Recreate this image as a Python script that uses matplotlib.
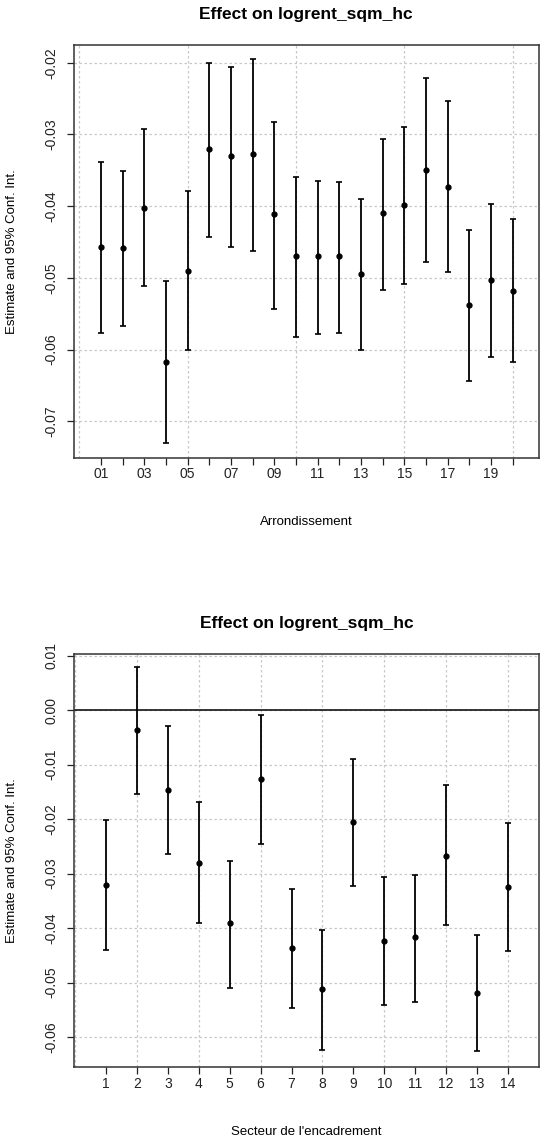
import numpy as np
import matplotlib
matplotlib.use("Agg")
import matplotlib.pyplot as plt

plt.rcParams["font.family"] = ["Liberation Sans", "DejaVu Sans"]

# Effects by arrondissement (estimate, lower and upper 95% bound)
arr_labels = ["01", "02", "03", "04", "05", "06", "07", "08", "09", "10",
              "11", "12", "13", "14", "15", "16", "17", "18", "19", "20"]
arr_est = [-0.0457, -0.0458, -0.0402, -0.0618, -0.0490, -0.0320, -0.0330, -0.0327, -0.0411, -0.0470,
           -0.0470, -0.0470, -0.0495, -0.0410, -0.0398, -0.0349, -0.0373, -0.0538, -0.0503, -0.0518]
arr_lo = [-0.0577, -0.0567, -0.0512, -0.0730, -0.0600, -0.0443, -0.0457, -0.0462, -0.0544, -0.0582,
          -0.0578, -0.0577, -0.0600, -0.0517, -0.0509, -0.0478, -0.0492, -0.0644, -0.0610, -0.0618]
arr_hi = [-0.0338, -0.0351, -0.0292, -0.0505, -0.0379, -0.0200, -0.0206, -0.0195, -0.0283, -0.0359,
          -0.0365, -0.0366, -0.0390, -0.0306, -0.0290, -0.0222, -0.0254, -0.0434, -0.0397, -0.0418]

# Effects by secteur de l'encadrement
sect_labels = ["1", "2", "3", "4", "5", "6", "7", "8", "9", "10", "11", "12", "13", "14"]
sect_est = [-0.0321, -0.0036, -0.0146, -0.0280, -0.0391, -0.0126, -0.0437,
            -0.0512, -0.0205, -0.0424, -0.0417, -0.0267, -0.0519, -0.0324]
sect_lo = [-0.0440, -0.0154, -0.0265, -0.0390, -0.0510, -0.0245, -0.0546,
           -0.0624, -0.0322, -0.0541, -0.0535, -0.0394, -0.0626, -0.0443]
sect_hi = [-0.0201, 0.0079, -0.0029, -0.0169, -0.0277, -0.0009, -0.0329,
           -0.0403, -0.0090, -0.0307, -0.0302, -0.0138, -0.0412, -0.0208]

W, H = 541, 1138
fig = plt.figure(figsize=(W / 100, H / 100), dpi=100)


def effect_panel(rect, labels, est, lo, hi, xlim, ylim, yticks, xgrid, xlabel, every=1, zero=False):
    ax = fig.add_axes(rect)
    x = np.arange(1, len(labels) + 1)
    est = np.array(est)
    err = [est - np.array(lo), np.array(hi) - est]

    for g in xgrid:
        ax.axvline(g, color="#c8c8c8", lw=0.9, ls=(0, (2, 2)), zorder=0)
    for t in yticks:
        ax.axhline(t, color="#c8c8c8", lw=0.9, ls=(0, (2, 2)), zorder=0)
    if zero:
        ax.axhline(0, color="black", lw=1.1, zorder=1)

    ax.errorbar(x, est, yerr=err, fmt="o", color="black", ms=3.5,
                elinewidth=1.3, capsize=2.5, capthick=1.2, zorder=3)

    ax.set_xlim(*xlim)
    ax.set_ylim(*ylim)
    ax.set_xticks(x)
    ax.set_xticklabels([l if i % every == 0 else "" for i, l in enumerate(labels)])
    ax.set_yticks(yticks)
    ax.set_yticklabels(["%.2f" % t for t in yticks], rotation=90, va="center")
    ax.tick_params(axis="both", labelsize=10, length=5, width=0.9, colors="#222222")
    ax.tick_params(axis="x", pad=2)
    ax.tick_params(axis="y", pad=6)
    for s in ax.spines.values():
        s.set_color("#333333")
        s.set_linewidth(1.1)
    ax.set_title("Effect on logrent_sqm_hc", fontweight="bold", fontsize=12.5, pad=19)
    ax.set_xlabel(xlabel, fontsize=9.5, labelpad=25)
    ax.set_ylabel("Estimate and 95% Conf. Int.", fontsize=9.5, labelpad=19)
    return ax


effect_panel([73.5 / W, 1 - 457.7 / H, (539 - 73.5) / W, (457.7 - 45) / H],
             arr_labels, arr_est, arr_lo, arr_hi,
             xlim=(-0.27, 21.22), ylim=(-0.07509, -0.01753),
             yticks=[-0.07, -0.06, -0.05, -0.04, -0.03, -0.02],
             xgrid=np.arange(0, 21, 5), xlabel="Arrondissement", every=2)

effect_panel([74 / W, 1 - 1067.3 / H, (539 - 74) / W, (1067.3 - 654) / H],
             sect_labels, sect_est, sect_lo, sect_hi,
             xlim=(-0.04, 15.01), ylim=(-0.06556, 0.0103),
             yticks=[-0.06, -0.05, -0.04, -0.03, -0.02, -0.01, 0.00, 0.01],
             xgrid=np.arange(0, 15, 2), xlabel="Secteur de l'encadrement", zero=True)

fig.savefig("out.png", dpi=100)
